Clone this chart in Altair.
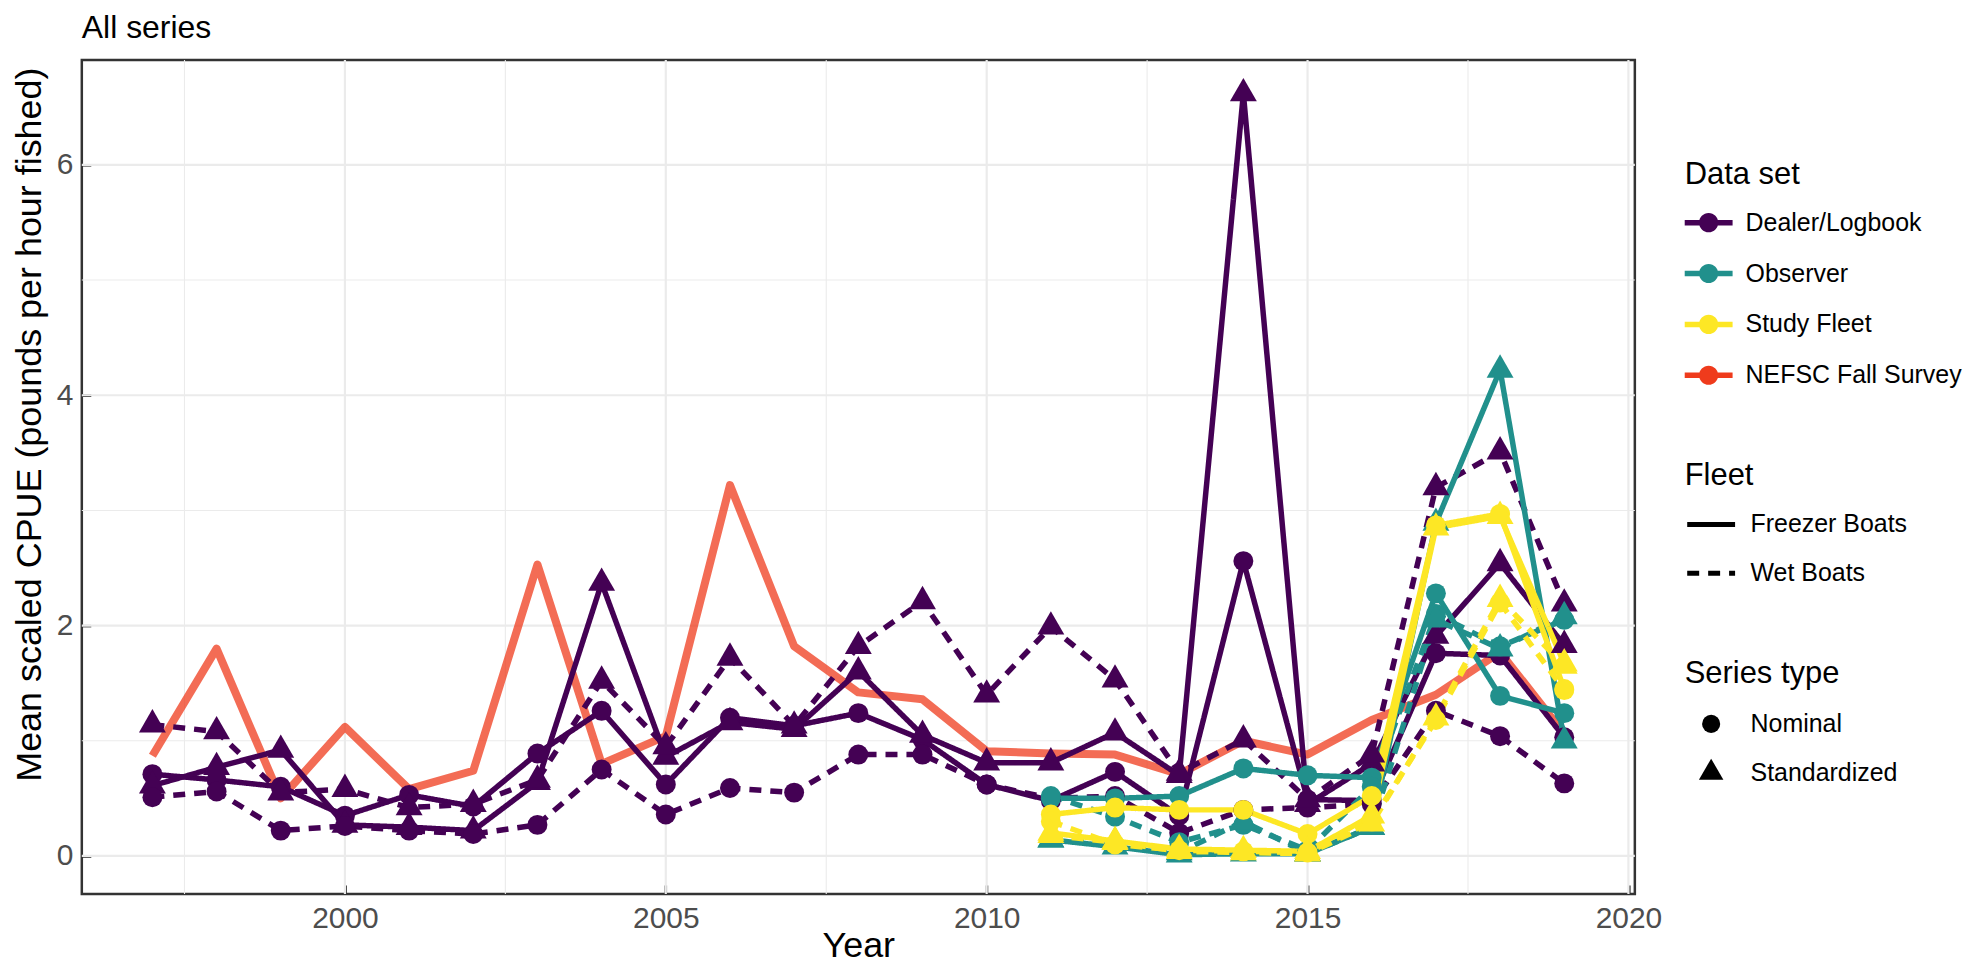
import altair as alt
import pandas as pd

# ---------------- data ----------------
YEARS_LONG = list(range(1997, 2020))
YEARS_SHORT = list(range(2011, 2020))

DATASETS = ["Dealer/Logbook", "Observer", "Study Fleet", "NEFSC Fall Survey"]
COLORS = ["#440154", "#21908C", "#FDE725", "#EF3B1C"]
FLEETS = ["Freezer Boats", "Wet Boats"]
STYPES = ["Nominal", "Standardized"]

# Dealer/Logbook 1997-2019
dl_freezer_nominal = [0.71, 0.66, 0.60, 0.35, 0.53, 0.43, 0.89, 1.26, 0.62, 1.20, 1.13, 1.24, 1.01,
                      0.62, 0.48, 0.73, 0.35, 2.56, 0.49, 0.48, 1.76, 1.74, 1.03]
dl_freezer_std = [0.61, 0.77, 0.92, 0.27, 0.25, 0.22, 0.64, 2.37, 0.86, 1.16, 1.10, 1.60, 1.05,
                  0.81, 0.81, 1.07, 0.70, 6.62, 0.45, 0.80, 1.91, 2.54, 1.83]
dl_wet_nominal = [0.51, 0.56, 0.22, 0.26, 0.22, 0.19, 0.27, 0.75, 0.36, 0.59, 0.55, 0.88, 0.88,
                  0.62, 0.50, 0.52, 0.20, 0.40, 0.42, 0.45, 1.26, 1.04, 0.63]
dl_wet_std = [1.14, 1.08, 0.55, 0.58, 0.42, 0.45, 0.66, 1.52, 0.95, 1.72, 1.13, 1.82, 2.21,
              1.40, 1.99, 1.53, 0.72, 1.01, 0.49, 0.88, 3.20, 3.51, 2.19]

# Observer 2011-2019
ob_freezer_nominal = [0.50, 0.50, 0.52, 0.76, 0.70, 0.68, 2.28, 1.39, 1.24]
ob_freezer_std = [0.14, 0.08, 0.01, 0.02, 0.02, 0.25, 2.89, 4.22, 1.00]
ob_wet_nominal = [0.52, 0.34, 0.12, 0.27, 0.05, 0.60, 2.10, 1.82, 2.05]
ob_wet_std = [0.14, 0.12, 0.03, 0.30, 0.02, 0.25, 2.05, 1.80, 2.08]

# Study Fleet 2011-2019
sf_freezer_nominal = [0.36, 0.42, 0.40, 0.40, 0.19, 0.52, 2.87, 2.97, 1.45]
sf_freezer_std = [0.20, 0.13, 0.06, 0.05, 0.04, 0.35, 2.85, 2.95, 1.67]
sf_wet_nominal = [0.30, 0.10, 0.05, 0.04, 0.03, 0.30, 1.18, 2.20, 1.44]
sf_wet_std = [0.18, 0.12, 0.04, 0.03, 0.02, 0.28, 1.20, 2.23, 1.65]

# NEFSC Fall Survey 1997-2019
survey = [0.87, 1.80, 0.50, 1.12, 0.58, 0.74, 2.53, 0.80, 1.04, 3.22, 1.82, 1.42, 1.36,
          0.91, 0.89, 0.88, 0.71, 1.00, 0.88, 1.18, 1.40, 1.77, 1.06]

X_MAJOR = [2000, 2005, 2010, 2015, 2020]
X_MINOR = [1997.5, 2002.5, 2007.5, 2012.5, 2017.5]
Y_MAJOR = [0, 2, 4, 6]
Y_MINOR = [1, 3, 5]

SERIES = [
    ("Dealer/Logbook", "Freezer Boats", "Nominal", YEARS_LONG, dl_freezer_nominal),
    ("Dealer/Logbook", "Freezer Boats", "Standardized", YEARS_LONG, dl_freezer_std),
    ("Dealer/Logbook", "Wet Boats", "Nominal", YEARS_LONG, dl_wet_nominal),
    ("Dealer/Logbook", "Wet Boats", "Standardized", YEARS_LONG, dl_wet_std),
    ("Observer", "Freezer Boats", "Nominal", YEARS_SHORT, ob_freezer_nominal),
    ("Observer", "Freezer Boats", "Standardized", YEARS_SHORT, ob_freezer_std),
    ("Observer", "Wet Boats", "Nominal", YEARS_SHORT, ob_wet_nominal),
    ("Observer", "Wet Boats", "Standardized", YEARS_SHORT, ob_wet_std),
    ("Study Fleet", "Freezer Boats", "Nominal", YEARS_SHORT, sf_freezer_nominal),
    ("Study Fleet", "Freezer Boats", "Standardized", YEARS_SHORT, sf_freezer_std),
    ("Study Fleet", "Wet Boats", "Nominal", YEARS_SHORT, sf_wet_nominal),
    ("Study Fleet", "Wet Boats", "Standardized", YEARS_SHORT, sf_wet_std),
]

rows = []
for ds, fl, st, yrs, vals in SERIES:
    for y, v in zip(yrs, vals):
        rows.append({"dataset": ds, "fleet": fl, "stype": st, "year": y, "value": v})
df = pd.DataFrame(rows)
df_survey = pd.DataFrame({"dataset": "NEFSC Fall Survey", "year": YEARS_LONG, "value": survey})

FONT = "Liberation Sans"
GRID = "#EBEBEB"

xscale = alt.Scale(domain=[1995.9, 2020.1], nice=False, zero=False)
yscale = alt.Scale(domain=[-0.33, 6.91], nice=False, zero=False)
color_scale = alt.Scale(domain=DATASETS, range=COLORS)

x_axis = alt.Axis(values=X_MAJOR, format="d", grid=False, domain=False, offset=-9, tickSize=9,
                  tickWidth=2.5, tickColor="#333333", labelFontSize=30, labelColor="#4D4D4D",
                  labelPadding=10, titleFontSize=36, titleFontWeight="normal", titleColor="black",
                  titleBaseline="alphabetic", titlePadding=23, labelFont=FONT, titleFont=FONT)
y_axis = alt.Axis(values=Y_MAJOR, grid=False, domain=False, offset=-9, tickSize=9,
                  tickWidth=2.5, tickColor="#333333", labelFontSize=30, labelColor="#4D4D4D",
                  labelPadding=9, titleFontSize=36, titleFontWeight="normal", titleColor="black",
                  titlePadding=8, titleY=365, labelFont=FONT, titleFont=FONT)

X = alt.X("year:Q", scale=xscale, axis=x_axis, title="Year")
Y = alt.Y("value:Q", scale=yscale, axis=y_axis, title="Mean scaled CPUE (pounds per hour fished)")

LEG_COMMON = dict(orient="none", padding=0, labelFontSize=25, titleFontSize=31,
                  titleFontWeight="normal", titleColor="black", labelColor="black",
                  labelFont=FONT, titleFont=FONT, labelLimit=400, symbolOpacity=1)

KEY_PATH = ("M-1,-0.115L1,-0.115L1,0.115L-1,0.115Z"
            "M-0.4,0A0.4,0.4 0 1,1 0.4,0A0.4,0.4 0 1,1 -0.4,0Z")
TRI_PATH = "M0,-1.56L1.35,0.78L-1.35,0.78Z"

color_legend = alt.Legend(title="Data set", legendX=1607, legendY=100,
                          symbolType=KEY_PATH, symbolSize=2304, symbolStrokeWidth=0,
                          labelOffset=13, titlePadding=8, rowPadding=14, **LEG_COMMON)
COLOR = alt.Color("dataset:N", scale=color_scale, legend=color_legend)

minor_x = alt.Chart(pd.DataFrame({"year": X_MINOR})).mark_rule(color=GRID, strokeWidth=1.1).encode(x=X)
major_x = alt.Chart(pd.DataFrame({"year": X_MAJOR})).mark_rule(color=GRID, strokeWidth=2.2).encode(x=X)
minor_y = alt.Chart(pd.DataFrame({"value": Y_MINOR})).mark_rule(color=GRID, strokeWidth=1.1).encode(y=Y)
major_y = alt.Chart(pd.DataFrame({"value": Y_MAJOR})).mark_rule(color=GRID, strokeWidth=2.2).encode(y=Y)

survey_line = alt.Chart(df_survey).mark_line(strokeWidth=8, opacity=0.75, strokeJoin="round").encode(
    x=X, y=Y, color=COLOR
)

lines = alt.Chart(df).mark_line(strokeWidth=5.5, strokeJoin="round").encode(
    x=X, y=Y,
    color=COLOR,
    strokeDash=alt.StrokeDash(
        "fleet:N", scale=alt.Scale(domain=FLEETS, range=[[1, 0], [12, 9]]),
        legend=alt.Legend(title="Fleet", legendX=1607, legendY=402, symbolType="stroke",
                          symbolSize=2304, symbolStrokeWidth=5, symbolStrokeColor="black",
                          labelOffset=13, titlePadding=6, rowPadding=9, **LEG_COMMON)),
    detail="stype:N",
)

points = alt.Chart(df).mark_point(filled=True, opacity=1, size=400).encode(
    x=X, y=Y,
    color=COLOR,
    shape=alt.Shape("stype:N", scale=alt.Scale(domain=STYPES, range=["circle", TRI_PATH]),
                    legend=alt.Legend(title="Series type", legendX=1607, legendY=601,
                                      symbolSize=330, symbolFillColor="black",
                                      symbolStrokeColor="black", symbolStrokeWidth=0,
                                      symbolOffset=14, labelOffset=27, titlePadding=21,
                                      rowPadding=21, **LEG_COMMON)),
)

chart = alt.layer(minor_x, major_x, minor_y, major_y, survey_line, lines, points).properties(
    width=1557, height=836,
    padding={"left": 74, "top": 51, "right": 330, "bottom": 69},
    autosize=alt.AutoSizeParams(type="none"),
    title=alt.TitleParams("All series", anchor="start", frame="group", fontSize=32, font=FONT,
                          fontWeight="normal", color="black", offset=14),
).configure(font=FONT).configure_view(stroke="#333333", strokeWidth=2.5)

chart.save("out.html", embed_options={"renderer": "svg", "actions": False})
